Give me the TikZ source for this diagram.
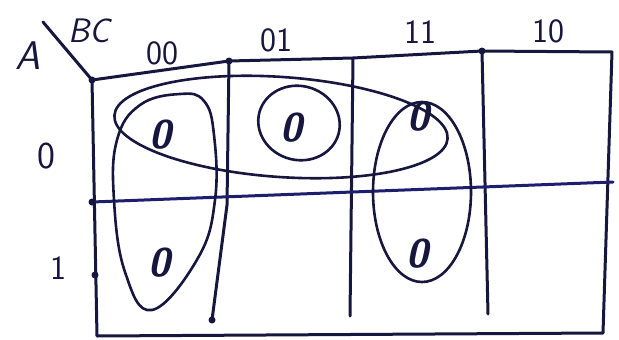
\documentclass[tikz,border=0pt]{standalone}
\usetikzlibrary{positioning}
\definecolor{ink}{RGB}{22,22,62}
\definecolor{blueink}{RGB}{30,30,110}
\tikzset{
    gridline/.style={draw=ink, line width=3pt, line cap=round, line join=round},
    loopline/.style={draw=ink, line width=2.6pt},
    dotmark/.style={circle, fill=ink, inner sep=0pt, minimum size=7pt},
    headval/.style={text=ink, inner sep=0pt, font=\fontsize{34}{34}\selectfont\sffamily},
    cellval/.style={text=ink, inner sep=0pt, font=\fontsize{40}{40}\selectfont\sffamily\bfseries\slshape},
    varname/.style={text=ink, inner sep=0pt, font=\fontsize{40}{40}\selectfont\sffamily\slshape},
}
\begin{document}
\begin{tikzpicture}[x=1pt, y=-1pt]
    \useasboundingbox (0,0) rectangle (619,340);
    % grid corners and column ends
    \coordinate (tl) at (92,80);
    \coordinate (tr) at (612,52);
    \coordinate (br) at (603,333);
    \coordinate (bl) at (97,336);
    \coordinate (c1t) at (229,61);  \coordinate (c1m) at (227,205);  \coordinate (c1b) at (212,320);
    \coordinate (c2t) at (353,58);  \coordinate (c2b) at (350,316);
    \coordinate (c3t) at (482,51);  \coordinate (c3b) at (488,314);
    \coordinate (r0) at (92,202);   \coordinate (r1) at (613,182);
    \coordinate (slash) at (43,22);

    \draw[gridline] (tl) -- (c1t) -- (c2t) -- (c3t) -- (tr) -- (br) -- (bl) -- cycle;
    \draw[gridline] (c1t) -- (c1m) -- (c1b);
    \draw[gridline] (c2t) -- (c2b);
    \draw[gridline] (c3t) -- (c3b);
    \draw[gridline, draw=blueink] (r0) -- (r1);
    \draw[gridline] (slash) -- (tl);

    \foreach \p in {tl, c1t, c3t, r0, c1b}
        \node[dotmark] at (\p) {};
    \node[dotmark] at (95,275) {};

    % variable names and headers
    \node[varname] (varA) at (28,56) {A};
    \node[varname, font=\fontsize{34}{34}\selectfont\sffamily\slshape] (varBC) at (89,31) {BC};
    \node[headval] (h00) at (162,53) {00};
    \node[headval] (h01) at (276,40) {01};
    \node[headval] (h11) at (420,32) {11};
    \node[headval] (h10) at (548,31) {10};
    \node[headval, font=\fontsize{38}{38}\selectfont\sffamily] (row0) at (46,156) {0};
    \node[headval] (row1) at (58,268) {1};

    % cell values
    \node[cellval] (m0) at (160,135) {0};
    \node[cellval] (m1) at (291,128) {0};
    \node[cellval] (m3) at (418,117) {0};
    \node[cellval] (m4) at (159,263) {0};
    \node[cellval] (m7) at (417,254) {0};

    % loops
    \draw[loopline, rotate around={-4:(281,127)}] (281,127) ellipse [x radius=167, y radius=50];
    \draw[loopline, rotate around={-15:(299,123)}] (299,123) ellipse [x radius=41, y radius=37];
    \draw[loopline] (422,192) ellipse [x radius=49, y radius=90];
    \draw[loopline] plot[smooth cycle, tension=0.7] coordinates {(152,310) (125,272) (114,200) (117,140) (140,105) (180,94) (204,101) (214,135) (215,200) (198,258)};
\end{tikzpicture}
\end{document}
